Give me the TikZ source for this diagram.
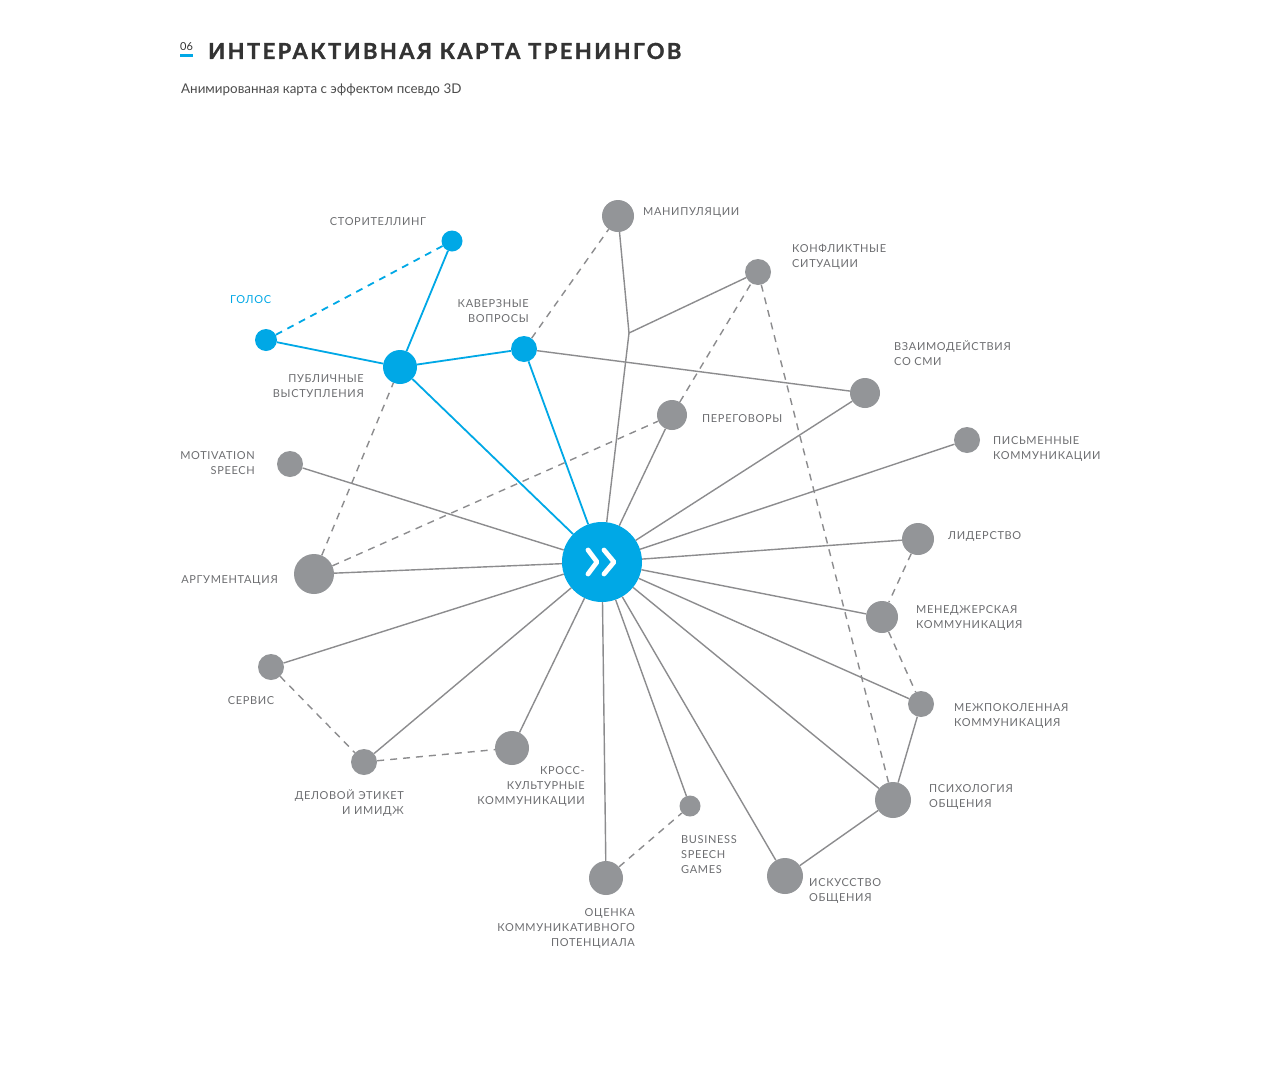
\documentclass[tikz,border=0pt]{standalone}
\usepackage{fontspec}
\setmainfont{Lato}
\newfontfamily\lblfont{Lato}[LetterSpace=6]
\newfontfamily\ttlfont{Lato}[LetterSpace=11, BoldFeatures={FakeBold=1.3}]
\usepackage{xcolor}
\definecolor{nodegray}{HTML}{939598}
\definecolor{linegray}{HTML}{8C8C8E}
\definecolor{mapblue}{HTML}{00A8E6}
\definecolor{txtgray}{HTML}{6D6E71}
\definecolor{ttlgray}{HTML}{333333}

\begin{document}
\begin{tikzpicture}[
  x=1pt, y=-1pt,
  every node/.style={font=\lblfont\fontsize{11}{15}\selectfont, text=txtgray, inner sep=0pt},
  lbl/.style={yshift=-2pt},
  dot/.style={circle, fill=nodegray, minimum size=#1, inner sep=0pt},
  dot/.default=26,
  bdot/.style={circle, fill=mapblue, minimum size=#1, inner sep=0pt},
  bdot/.default=26,
  lnk/.style={draw=linegray, line width=1.4pt},
  dsh/.style={lnk, dash pattern=on 7pt off 6pt},
  blnk/.style={draw=mapblue, line width=1.8pt},
  bdsh/.style={blnk, dash pattern=on 7pt off 6pt},
  chev/.style={draw=white, line width=4.8pt, line cap=round, line join=round},
]
\fill[white] (0,0) rectangle (1280,1071);
\useasboundingbox (0,0) rectangle (1280,1071);

% header
\node[anchor=west, font=\fontsize{11}{12}\selectfont, text=ttlgray] (n06) at (180,47) {06};
\draw[mapblue, line width=3pt] ([yshift=-4pt]n06.south west) -- ([yshift=-4pt]n06.south east);
\node[anchor=west, font=\ttlfont\bfseries\fontsize{22}{26}\selectfont, text=ttlgray] (ttl) at (208,51) {ИНТЕРАКТИВНАЯ КАРТА ТРЕНИНГОВ};
\node[anchor=west, font=\fontsize{13.4}{16}\selectfont, text=black!70] (sub) at (181,90) {Анимированная карта с эффектом псевдо 3D};

% nodes
\node[circle, fill=mapblue, minimum size=80] (hub) at (602,562) {};
\coordinate (j) at (629,333);
\node[dot=32]  (m)    at (618,216) {};
\node[dot=26]  (k)    at (758,272) {};
\node[bdot=26] (kv)   at (524,349) {};
\node[bdot=34] (pv)   at (400,367) {};
\node[bdot=21] (st)   at (452,241) {};
\node[bdot=22] (g)    at (266,340) {};
\node[dot=30]  (vz)   at (865,393) {};
\node[dot=30]  (pg)   at (672,415) {};
\node[dot=26]  (pis)  at (967,440) {};
\node[dot=26]  (mot)  at (290,464) {};
\node[dot=40]  (arg)  at (314,574) {};
\node[dot=32]  (lid)  at (918,539) {};
\node[dot=32]  (men)  at (882,617) {};
\node[dot=26]  (ser)  at (271,667) {};
\node[dot=26]  (mezh) at (921,704) {};
\node[dot=26]  (del)  at (364,762) {};
\node[dot=34]  (kr)   at (512,748) {};
\node[dot=36]  (psy)  at (893,800) {};
\node[dot=21]  (bs)   at (690,806) {};
\node[dot=34]  (oc)   at (606,878) {};
\node[dot=36]  (isk)  at (785,876) {};

% hub symbol
\begin{scope}[shift={(hub.center)}]
  \draw[chev] (-14,-12) -- (-5,0) -- (-14,12);
  \draw[chev] (2,-12) -- (12,0) -- (2,12);
\end{scope}

% labels
\node[lbl, anchor=west] (m-l)    at (643,211) {МАНИПУЛЯЦИИ};
\node[lbl, anchor=west, align=left] (k-l)    at (792,255) {КОНФЛИКТНЫЕ\\СИТУАЦИИ};
\node[lbl, anchor=west, align=left] (vz-l)   at (894,351) {ВЗАИМОДЕЙСТВИЯ\\СО СМИ};
\node[lbl, anchor=west] (pg-l)   at (702,417) {ПЕРЕГОВОРЫ};
\node[lbl, anchor=west, align=left] (pis-l)  at (993,447) {ПИСЬМЕННЫЕ\\КОММУНИКАЦИИ};
\node[lbl, anchor=west] (lid-l)  at (948,534) {ЛИДЕРСТВО};
\node[lbl, anchor=west, align=left] (men-l)  at (916,616) {МЕНЕДЖЕРСКАЯ\\КОММУНИКАЦИЯ};
\node[lbl, anchor=west, align=left] (mezh-l) at (954,714) {МЕЖПОКОЛЕННАЯ\\КОММУНИКАЦИЯ};
\node[lbl, anchor=west, align=left] (psy-l)  at (929,795) {ПСИХОЛОГИЯ\\ОБЩЕНИЯ};
\node[lbl, anchor=west, align=left] (isk-l)  at (809,889) {ИСКУССТВО\\ОБЩЕНИЯ};
\node[lbl, anchor=west, align=left] (bs-l)   at (681,853) {BUSINESS\\SPEECH\\GAMES};
\node[lbl, anchor=east, align=right] (oc-l)  at (635,926) {ОЦЕНКА\\КОММУНИКАТИВНОГО\\ПОТЕНЦИАЛА};
\node[lbl, anchor=east, align=right] (kr-l)  at (585,784) {КРОСС-\\КУЛЬТУРНЫЕ\\КОММУНИКАЦИИ};
\node[lbl, anchor=east, align=right] (del-l) at (404,801) {ДЕЛОВОЙ ЭТИКЕТ\\И ИМИДЖ};
\node[lbl] (ser-l) at (251,699) {СЕРВИС};
\node[lbl, anchor=east] (arg-l)  at (278,579) {АРГУМЕНТАЦИЯ};
\node[lbl, anchor=east, align=right] (mot-l) at (255,461) {MOTIVATION\\SPEECH};
\node[lbl, anchor=east, align=right] (pv-l)  at (364,384) {ПУБЛИЧНЫЕ\\ВЫСТУПЛЕНИЯ};
\node[lbl, anchor=east, align=right] (kv-l)  at (529,309) {КАВЕРЗНЫЕ\\ВОПРОСЫ};
\node[lbl, anchor=west, text=mapblue] (g-l)  at (230,298) {ГОЛОС};
\node[lbl] (st-l) at (378,220) {СТОРИТЕЛЛИНГ};

% blue links
\draw[blnk] (hub) -- (pv);
\draw[blnk] (hub) -- (kv);
\draw[blnk] (pv) -- (kv);
\draw[blnk] (pv) -- (g);
\draw[blnk] (pv) -- (st);
\draw[bdsh] (g) -- (st);

% gray links
\draw[lnk] (hub) -- (j);
\draw[lnk] (j) -- (m);
\draw[lnk] (j) -- (k);
\draw[lnk] (hub) -- (pg);
\draw[lnk] (hub) -- (vz);
\draw[lnk] (kv) -- (vz);
\draw[lnk] (hub) -- (pis);
\draw[lnk] (hub) -- (lid);
\draw[lnk] (hub) -- (men);
\draw[lnk] (hub) -- (mezh);
\draw[lnk] (hub) -- (psy);
\draw[lnk] (hub) -- (isk);
\draw[lnk] (hub) -- (bs);
\draw[lnk] (hub) -- (oc);
\draw[lnk] (hub) -- (kr);
\draw[lnk] (hub) -- (del);
\draw[lnk] (hub) -- (ser);
\draw[lnk] (hub) -- (arg);
\draw[lnk] (hub) -- (mot);
\draw[lnk] (mezh) -- (psy);
\draw[lnk] (psy) -- (isk);

% dashed links
\draw[dsh] (kv) -- (m);
\draw[dsh] (arg) -- (pv);
\draw[dsh] (arg) -- (pg);
\draw[dsh] (pg) -- (k);
\draw[dsh] (k) -- (psy);
\draw[dsh] (lid) -- (men);
\draw[dsh] (men) -- (mezh);
\draw[dsh] (ser) -- (del);
\draw[dsh] (del) -- (kr);
\draw[dsh] (oc) -- (bs);
\end{tikzpicture}
\end{document}
